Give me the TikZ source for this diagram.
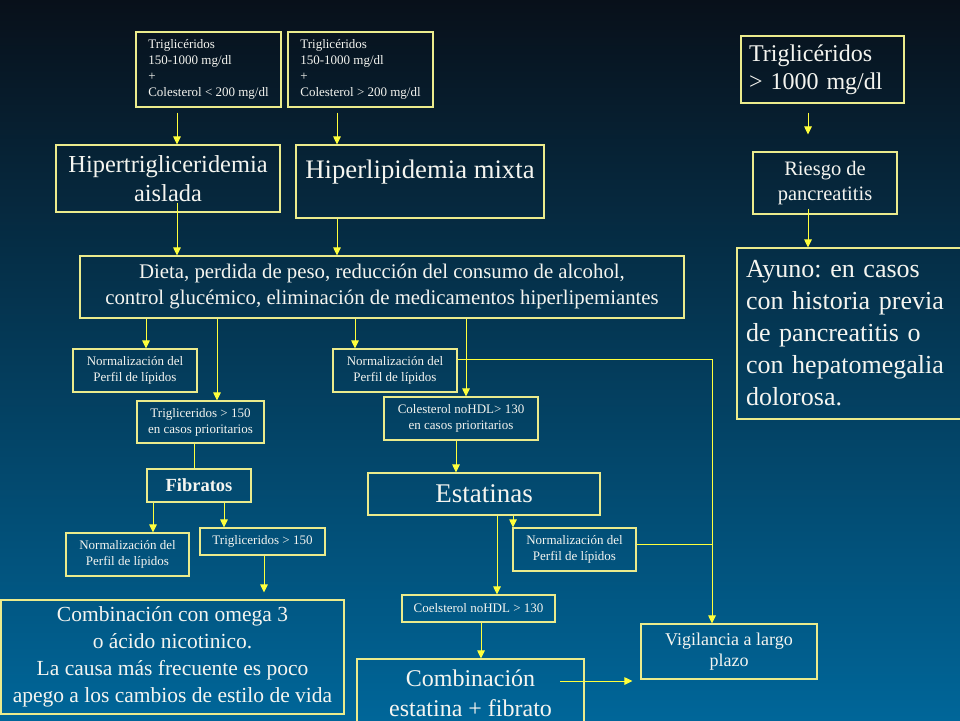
\documentclass[tikz,border=0pt]{standalone}
\usepackage{fontspec}
\setmainfont{Liberation Serif}
\usetikzlibrary{arrows.meta}
\definecolor{bgtop}{RGB}{8,16,26}
\definecolor{bgbot}{RGB}{0,102,153}
\definecolor{bordc}{RGB}{235,235,140}
\definecolor{arrc}{RGB}{255,255,60}
\definecolor{txtc}{RGB}{245,245,240}
\newcommand\fz[2]{\fontsize{#1}{#2}\selectfont}
\frenchspacing
\begin{document}
\begin{tikzpicture}[x=1pt,y=-1pt,
  box/.style={draw=bordc, line width=1.1pt, text=txtc, inner sep=0pt, align=center},
  small/.style={font=\fz{13}{16}},
  arr/.style={draw=arrc, line width=1pt, -{Triangle[length=8pt,width=7.5pt]}},
  ln/.style={draw=arrc, line width=1pt}]
\useasboundingbox (0,0) rectangle (960,720);
\clip (0,0) rectangle (960,720);
\shade[top color=bgtop, bottom color=bgbot] (0,0) rectangle (960,720);

% boxes
\node[box, small, minimum width=145, minimum height=75, align=left] (t1) at (208.5,69.5)
  {Triglicéridos\\150-1000 mg/dl\\+\\Colesterol < 200 mg/dl};
\node[box, small, minimum width=145, minimum height=75, align=left] (t2) at (360.5,69.5)
  {Triglicéridos\\150-1000 mg/dl\\+\\Colesterol > 200 mg/dl};
\node[box, font=\fz{24.4}{29}, minimum width=224, minimum height=67] (hta) at (168,178.5)
  {Hipertrigliceridemia\\aislada};
\node[box, font=\fz{26.7}{32}, minimum width=248, minimum height=73] (hlm) at (420,181.5)
  {Hiperlipidemia mixta\\[-18pt]\strut};
\node[box, font=\fz{24}{28}, text width=147, inner xsep=8pt, minimum height=67, align=left] (t3) at (822.5,69.5)
  {Triglicéridos\\> 1000 mg/dl};
\node[box, font=\fz{20.5}{25}, minimum width=144, minimum height=62] (ries) at (825,183)
  {Riesgo de\\pancreatitis};
\node[box, font=\fz{26}{32}, text width=207, inner xsep=9pt, minimum height=171, align=left] (ayuno) at (849.5,333.5)
  {Ayuno: en casos\\con historia previa\\de pancreatitis o\\con hepatomegalia\\dolorosa.};
\node[box, font=\fz{20.8}{26}, minimum width=604, minimum height=62] (dieta) at (382,287)
  {Dieta, perdida de peso, reducción del consumo de alcohol,\\control glucémico, eliminación de medicamentos hiperlipemiantes};
\node[box, small, minimum width=124, minimum height=43] (n1) at (135,370.5)
  {Normalización del\\Perfil de lípidos};
\node[box, small, minimum width=127, minimum height=42] (tg1) at (200.5,422)
  {Trigliceridos > 150\\en casos prioritarios};
\node[box, small, minimum width=124, minimum height=43] (n2) at (395,370.5)
  {Normalización del\\Perfil de lípidos};
\node[box, small, minimum width=154, minimum height=43] (chdl) at (461,418.5)
  {Colesterol noHDL> 130\\en casos prioritarios};
\node[box, font=\bfseries\fz{18.5}{22}, minimum width=104, minimum height=33] (fib) at (199,485.5)
  {Fibratos};
\node[box, font=\fz{27}{32}, minimum width=232, minimum height=42] (est) at (484,494)
  {Estatinas};
\node[box, small, minimum width=123, minimum height=43] (n3) at (127.5,554.5)
  {Normalización del\\Perfil de lípidos};
\node[box, small, minimum width=125, minimum height=27] (tg2) at (262.5,541.5)
  {Trigliceridos > 150};
\node[box, small, minimum width=123, minimum height=43] (n4) at (574.5,549.5)
  {Normalización del\\Perfil de lípidos};
\node[box, small, minimum width=153, minimum height=27] (chdl2) at (478.5,608.5)
  {Coelsterol noHDL > 130};
\node[box, font=\fz{21.5}{27}, minimum width=343, minimum height=114] (omega) at (172.5,657)
  {Combinación con omega 3\\o ácido nicotinico.\\La causa más frecuente es poco\\apego a los cambios de estilo de vida};
\node[box, font=\fz{18}{21.5}, minimum width=176, minimum height=55] (vig) at (729,651.5)
  {Vigilancia a largo\\plazo};
\node[box, font=\fz{24}{30}, minimum width=227, minimum height=68] (comb) at (470.5,693)
  {Combinación\\estatina + fibrato};

% column and junction coordinates
\coordinate (x146) at (146,0);
\coordinate (x153) at (153,0);
\coordinate (x177) at (177,0);
\coordinate (x194) at (194,0);
\coordinate (x217) at (217,0);
\coordinate (x224) at (224,0);
\coordinate (x264) at (264,0);
\coordinate (x337) at (337,0);
\coordinate (x355) at (355,0);
\coordinate (x456) at (456,0);
\coordinate (x466) at (466,0);
\coordinate (x481) at (481,0);
\coordinate (x497) at (497,0);
\coordinate (x513) at (513,0);
\coordinate (x808) at (808,0);
\coordinate (j1) at (712,359);
\coordinate (j2) at (712,544);
\coordinate (j3) at (560,681);

% connectors
\draw[arr, shorten <=5pt] (x177 |- t1.south) -- (x177 |- hta.north);
\draw[arr, shorten <=5pt] (x337 |- t2.south) -- (x337 |- hlm.north);
\draw[arr, shorten <=-10pt] (x177 |- hta.south) -- (x177 |- dieta.north);
\draw[arr] (x337 |- hlm.south) -- (x337 |- dieta.north);
\draw[arr, shorten <=9pt, shorten >=17pt] (x808 |- t3.south) -- (x808 |- ries.north);
\draw[arr, shorten <=-6pt] (x808 |- ries.south) -- (x808 |- ayuno.north);
\draw[arr] (x146 |- dieta.south) -- (x146 |- n1.north);
\draw[arr] (x217 |- dieta.south) -- (x217 |- tg1.north);
\draw[arr] (x355 |- dieta.south) -- (x355 |- n2.north);
\draw[arr] (x466 |- dieta.south) -- (x466 |- chdl.north);
\draw[ln] (x194 |- tg1.south) -- (x194 |- fib.north);
\draw[arr] (x456 |- chdl.south) -- (x456 |- est.north);
\draw[arr] (x153 |- fib.south) -- (x153 |- n3.north);
\draw[arr] (x224 |- fib.south) -- (x224 |- tg2.north);
\draw[arr, shorten >=7pt] (x264 |- tg2.south) -- (x264 |- omega.north);
\draw[arr] (x497 |- est.south) -- (x497 |- chdl2.north);
\draw[arr] (x513 |- est.south) -- (x513 |- n4.north);
\draw[arr] (x481 |- chdl2.south) -- (x481 |- comb.north);
\draw[arr] (n2.east |- j1) -- (j1) -- (j1 |- vig.north);
\draw[ln] (n4.east |- j2) -- (j2);
\draw[arr, shorten >=8pt] (j3) -- (vig.west |- j3);
\end{tikzpicture}
\end{document}
